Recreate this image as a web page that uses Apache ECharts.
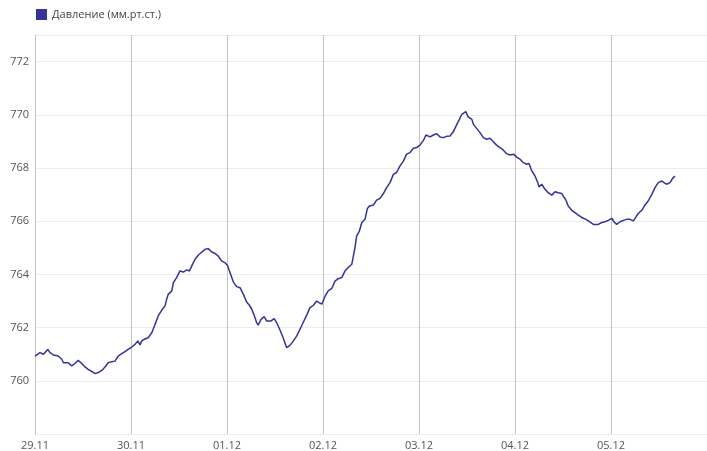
<!DOCTYPE html>
<html><head><meta charset="utf-8">
<script src="https://cdn.jsdelivr.net/npm/echarts@6/dist/echarts.min.js"></script>
<style>html,body{margin:0;padding:0;background:#fff}#c{width:707px;height:451px}</style>
</head><body><div id="c"></div>
<script>
const seriesName = 'Давление (мм.рт.ст.)';
const dayLabels = ['29.11','30.11','01.12','02.12','03.12','04.12','05.12','06.12'];
const hours = [
0,1.25,2.1,3.2,3.75,4.6,5.8,6.7,7.1,8.3,9.2,10,10.8,11.7,12.5,13.3,14.2,15,15.8,16.7,17.5,18.3,19.2,20,20.8,21.7,22.5,23.3,24.2,25,25.7,26.25,26.7,27.3,
28.3,29.2,30,30.8,31.7,32.5,32.9,33.3,34.2,34.6,35.4,36.25,37.1,37.9,38.6,39.2,40,40.8,41.7,42.5,43.3,44.2,45,45.8,46.7,47.5,48.1,48.75,49.6,50.4,51.25,52.1,52.9,53.6,
54.2,54.8,55.4,55.8,56.5,57.3,57.9,59,59.8,60.4,61.25,62.1,62.9,63.75,64.6,65.4,66.25,67.1,67.9,68.75,69.6,70.4,71,71.7,72.5,73.3,74.2,75,75.8,76.7,77.5,78.3,79.2,79.6,
80,80.4,81.1,81.7,82.5,83.1,83.6,84.6,85.4,86.25,87.1,87.9,88.75,89.6,90.4,91.25,92.1,92.9,93.75,94.6,95.4,96.25,97.1,97.75,98.75,99.6,100.4,101.25,102.1,102.9,103.75,104.6,105.4,106.1,
106.7,107.7,108.3,109.2,109.6,110.4,111.25,112.1,112.9,113.75,114.6,115.4,116.25,117.1,117.9,118.75,119.6,120.4,121.25,122.1,122.9,123.5,124.2,125,125.7,126,126.7,127.5,128.3,129.2,130,130.8,131.7,132.3,
132.75,133.3,134.2,135,135.8,136.7,137.75,138.6,139.6,140.8,141.7,142.5,143.3,144.2,144.75,145.4,146.25,147.1,147.9,148.75,149.6,150.25,150.8,151.7,152.5,153.3,154.2,155,155.8,156.7,157.25,157.9,158.75,159.4,160
];
const pressure = [
760.93,761.06,761.0,761.18,761.06,760.97,760.93,760.81,760.68,760.68,760.56,760.65,760.77,760.65,760.52,760.43,760.35,760.27,760.31,760.39,760.52,760.68,760.72,760.74,760.93,761.02,761.10,761.18,761.27,761.37,761.50,761.35,761.50,761.56,
761.62,761.81,762.12,762.44,762.66,762.81,763.06,763.25,763.38,763.69,763.88,764.13,764.09,764.17,764.13,764.32,764.57,764.72,764.84,764.94,764.97,764.84,764.79,764.69,764.50,764.44,764.34,764.07,763.71,763.54,763.50,763.25,762.96,762.84,
762.69,762.46,762.19,762.09,762.31,762.41,762.25,762.25,762.34,762.19,761.91,761.59,761.25,761.33,761.50,761.68,761.94,762.21,762.46,762.75,762.84,763.00,762.94,762.88,763.17,763.38,763.47,763.75,763.84,763.88,764.13,764.26,764.38,764.70,
765.01,765.44,765.63,765.95,766.07,766.48,766.57,766.61,766.79,766.86,767.04,767.26,767.45,767.76,767.83,768.08,768.26,768.52,768.58,768.74,768.77,768.86,769.04,769.24,769.17,769.24,769.29,769.17,769.14,769.19,769.20,769.37,769.62,769.83,
770.02,770.12,769.92,769.83,769.64,769.49,769.33,769.14,769.08,769.12,768.99,768.86,768.77,768.67,768.54,768.49,768.52,768.41,768.33,768.20,768.14,768.17,767.89,767.70,767.45,767.29,767.39,767.20,767.07,766.98,767.11,767.07,767.04,766.89,
766.79,766.57,766.41,766.32,766.23,766.14,766.07,765.98,765.88,765.88,765.95,765.98,766.03,766.11,765.98,765.88,765.98,766.03,766.07,766.07,766.01,766.16,766.29,766.41,766.61,766.76,767.01,767.26,767.45,767.51,767.45,767.39,767.45,767.61,767.70
];
const data = hours.map((h, i) => [h, pressure[i]]);
const chart = echarts.init(document.getElementById('c'));
const font = 'Open Sans';
chart.setOption({
  animation: false,
  textStyle: { fontFamily: font },
  legend: {
    left: 31, top: 4, itemWidth: 11, itemHeight: 11, itemGap: 10,
    icon: 'rect',
    textStyle: { fontSize: 11, color: '#444', fontFamily: font },
    data: [seriesName]
  },
  grid: { left: 35, right: 0, top: 35, bottom: 17, containLabel: false },
  xAxis: {
    type: 'value', min: 0, max: 168, interval: 24,
    axisLine: { show: false }, axisTick: { show: false },
    splitLine: { show: true, lineStyle: { color: '#c4c4c4', width: 1 } },
    axisLabel: {
      showMaxLabel: false, color: '#555', fontSize: 11, fontFamily: font, margin: 6,
      formatter: v => dayLabels[Math.round(v / 24)]
    }
  },
  yAxis: {
    type: 'value', min: 758, max: 773, interval: 2,
    axisLine: { show: true, lineStyle: { color: '#c4c4c4' } }, axisTick: { show: false },
    splitLine: { show: true, lineStyle: { color: '#ececec' } },
    axisLabel: { showMinLabel: false, showMaxLabel: false, color: '#555', fontSize: 11, fontFamily: font, margin: 6,
      formatter: v => (v % 2 === 0 && v > 758 ? String(v) : '') }
  },
  series: [{
    name: seriesName, type: 'line', data: data,
    showSymbol: false, symbol: 'none',
    lineStyle: { color: '#333399', width: 1.5 },
    itemStyle: { color: '#333399' }
  }]
});
</script></body></html>
